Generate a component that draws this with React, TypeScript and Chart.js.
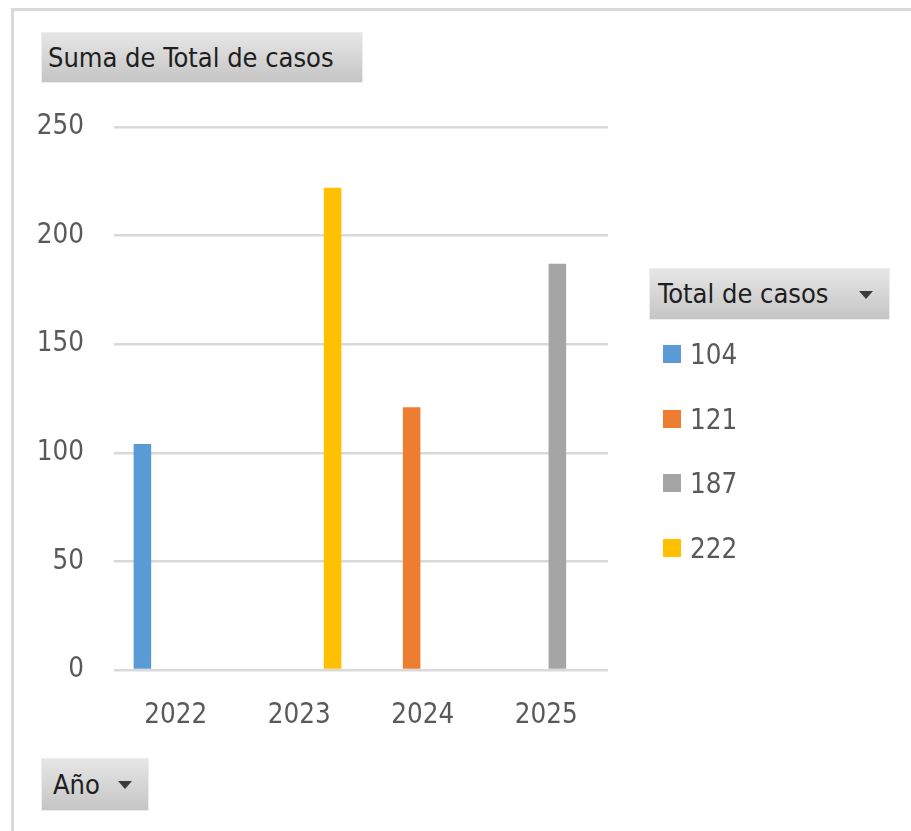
import React, { useEffect, useRef } from "react";
import { Chart, registerables } from "chart.js";

Chart.register(...registerables);

// ---- data ----
const years = ["2022", "2023", "2024", "2025"];
const seriesNames = ["104", "121", "187", "222"];
const seriesYears = ["2022", "2024", "2025", "2023"];
const seriesValues = [104, 121, 187, 222];
const seriesColors = ["#5B9BD5", "#ED7D31", "#A5A5A5", "#FFC000"];
const yTicks = [0, 50, 100, 150, 200, 250];
const valueFieldLabel = "Suma de Total de casos";
const legendFieldLabel = "Total de casos";
const axisFieldLabel = "Año";

const TICK_FONT = '"DejaVu Sans Condensed", "DejaVu Sans", sans-serif';
const BTN_FONT = '"DejaVu Sans Condensed", "DejaVu Sans", sans-serif';
const TICK_SIZE = 27.5;

const btnBase: React.CSSProperties = {
  position: "absolute",
  boxSizing: "border-box",
  background: "linear-gradient(#e6e6e6, #c5c5c5)",
  border: "1px solid #ededed",
  fontFamily: BTN_FONT,
  fontSize: 27,
  color: "#1e1e1e",
  whiteSpace: "nowrap",
};

const Tri = ({ left, top }: { left: number; top: number }) => (
  <div
    style={{
      position: "absolute",
      left,
      top,
      width: 0,
      height: 0,
      borderLeft: "7.5px solid transparent",
      borderRight: "7.5px solid transparent",
      borderTop: "8px solid #3c3c3c",
    }}
  />
);

export default function App() {
  const ref = useRef<HTMLCanvasElement>(null);

  useEffect(() => {
    const chart = new Chart(ref.current!, {
      type: "bar",
      data: {
        labels: years,
        datasets: seriesNames.map((name, i) => ({
          label: name,
          data: years.map((y) => (y === seriesYears[i] ? seriesValues[i] : null)),
          backgroundColor: seriesColors[i],
          borderWidth: 0,
          categoryPercentage: 0.72,
          barPercentage: 0.79,
        })),
      },
      options: {
        responsive: false,
        animation: false,
        layout: { padding: { left: 0, right: 303, top: 127, bottom: 61 } },
        plugins: { legend: { display: false }, tooltip: { enabled: false } },
        scales: {
          x: {
            grid: { display: false, drawTicks: false },
            border: { display: false },
            ticks: {
              color: "#595959",
              font: { family: TICK_FONT, size: TICK_SIZE },
              padding: 29,
            },
            afterFit: (s: any) => {
              s.height = 100;
            },
          },
          y: {
            min: 0,
            max: 250,
            afterBuildTicks: (s: any) => {
              s.ticks = yTicks.map((v) => ({ value: v }));
            },
            grid: { color: "#d9d9d9", lineWidth: 2.5, drawTicks: false },
            border: { display: false },
            ticks: {
              color: "#595959",
              font: { family: TICK_FONT, size: TICK_SIZE },
              padding: 30,
            },
            afterFit: (s: any) => {
              s.width = 114;
            },
          },
        },
      },
    });
    return () => chart.destroy();
  }, []);

  return (
    <div style={{ position: "fixed", left: 0, top: 0, width: 911, height: 831, overflow: "hidden", background: "#fff" }}>
      <div
        style={{
          position: "absolute",
          left: 11,
          top: 8,
          width: 910,
          height: 830,
          borderTop: "3px solid #d9d9d9",
          borderLeft: "3px solid #d9d9d9",
        }}
      />
      <canvas ref={ref} width={911} height={831} style={{ position: "absolute", left: 0, top: 0 }} />

      <div style={{ ...btnBase, left: 41, top: 32, width: 322, height: 51, lineHeight: "49px", paddingLeft: 6 }}>
        {valueFieldLabel}
      </div>

      <div style={{ ...btnBase, left: 649, top: 268, width: 241, height: 52, lineHeight: "50px", paddingLeft: 8 }}>
        {legendFieldLabel}
      </div>
      <Tri left={859} top={291} />

      <div style={{ ...btnBase, left: 41, top: 758, width: 108, height: 53, lineHeight: "51px", paddingLeft: 11 }}>
        {axisFieldLabel}
      </div>
      <Tri left={118} top={781} />

      {seriesNames.map((name, i) => (
        <div
          key={name}
          style={{ position: "absolute", left: 663, top: 336 + i * 64.5, height: 36, display: "flex", alignItems: "center" }}
        >
          <div style={{ width: 18, height: 18, background: seriesColors[i], marginRight: 9 }} />
          <span style={{ fontFamily: TICK_FONT, fontSize: TICK_SIZE, color: "#595959", lineHeight: "36px" }}>{name}</span>
        </div>
      ))}
    </div>
  );
}
